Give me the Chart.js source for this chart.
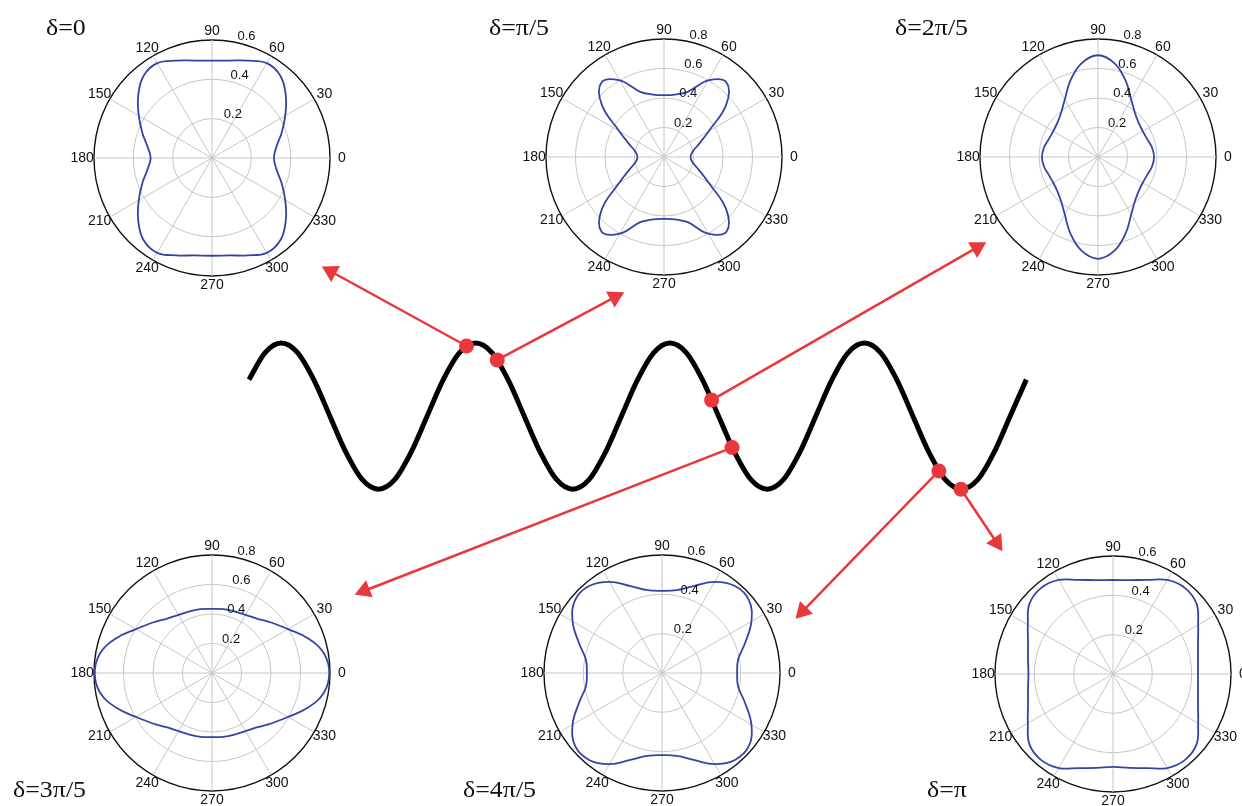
<!DOCTYPE html>
<html lang="en">
<head>
<meta charset="UTF-8">
<title>Polar patterns along the wave</title>
<script src="https://cdn.jsdelivr.net/npm/chart.js"></script>
<style>
  body { margin: 0; background: #fff; }
  #stage { position: relative; width: 1242px; height: 806px; overflow: hidden; background: #fff; }
  #stage canvas { position: absolute; }
  .delta { position: absolute; font-family: "Liberation Serif", "Times New Roman", serif; font-size: 24px; line-height: 24px; color: #111; white-space: nowrap; transform: scaleX(1.08); transform-origin: left top; }
</style>
</head>
<body>
<div id="stage"></div>
<script>
// polar angles (deg, counter-clockwise from 0)
const angles = [0,10,20,30,40,50,60,70,80,90,100,110,120,130,140,150,160,170,
                180,190,200,210,220,230,240,250,260,270,280,290,300,310,320,330,340,350];

const deltaLabels = ['δ=0', 'δ=π/5', 'δ=2π/5', 'δ=3π/5', 'δ=4π/5', 'δ=π'];
const rMax = [0.6, 0.8, 0.8, 0.8, 0.6, 0.6];

// radius read at each angle above
const r0 = [0.315,0.333,0.377,0.430,0.490,0.543,0.557,0.527,0.503,0.495,
            0.503,0.527,0.557,0.543,0.490,0.430,0.377,0.333,0.312,
            0.333,0.377,0.430,0.490,0.543,0.557,0.527,0.503,0.497,
            0.503,0.527,0.557,0.543,0.490,0.430,0.377,0.333];
const r1 = [0.180,0.195,0.250,0.350,0.550,0.660,0.600,0.470,0.430,0.420,
            0.430,0.470,0.600,0.660,0.550,0.350,0.250,0.195,0.180,
            0.195,0.250,0.350,0.550,0.660,0.600,0.470,0.430,0.420,
            0.430,0.470,0.600,0.660,0.550,0.350,0.250,0.195];
const r2 = [0.380,0.372,0.355,0.350,0.360,0.390,0.450,0.550,0.645,0.690,
            0.645,0.550,0.450,0.390,0.360,0.350,0.355,0.372,0.380,
            0.372,0.355,0.350,0.360,0.390,0.450,0.550,0.645,0.690,
            0.645,0.550,0.450,0.390,0.360,0.350,0.355,0.372];
const r3 = [0.795,0.770,0.690,0.595,0.530,0.480,0.455,0.445,0.440,0.435,
            0.440,0.445,0.455,0.480,0.530,0.595,0.690,0.770,0.795,
            0.770,0.690,0.595,0.530,0.480,0.455,0.445,0.440,0.435,
            0.440,0.445,0.455,0.480,0.530,0.595,0.690,0.770];
const r4 = [0.382,0.393,0.450,0.525,0.577,0.577,0.535,0.470,0.428,0.418,
            0.428,0.470,0.535,0.577,0.577,0.525,0.450,0.393,0.382,
            0.393,0.450,0.525,0.577,0.577,0.535,0.470,0.428,0.418,
            0.428,0.470,0.535,0.577,0.577,0.525,0.450,0.393];
const r5 = [0.432,0.439,0.460,0.500,0.555,0.570,0.552,0.509,0.485,0.478,
            0.485,0.509,0.552,0.570,0.555,0.500,0.460,0.439,0.430,
            0.439,0.460,0.500,0.555,0.570,0.552,0.509,0.485,0.472,
            0.485,0.509,0.552,0.570,0.555,0.500,0.460,0.439];
const radii = [r0, r1, r2, r3, r4, r5];

// the wave: phase in degrees, amplitude
const wavePhase = [-60,-30,0,30,60,90,120,150,180,210,240,270,300,330,360,390,420,450,480,510,540,
                   570,600,630,660,690,720,750,780,810,840,870,900,930,960,990,1020,1050,1080,
                   1110,1140,1170,1200,1230,1260,1290,1320,1350,1380];
const waveAmp = [0.5,0.87,1,0.87,0.5,0,-0.5,-0.87,-1,-0.87,-0.5,0,
                 0.5,0.87,1,0.87,0.5,0,-0.5,-0.87,-1,-0.87,-0.5,0,
                 0.5,0.87,1,0.87,0.5,0,-0.5,-0.87,-1,-0.87,-0.5,0,
                 0.5,0.87,1,0.87,0.5,0,-0.5,-0.87,-1,-0.87,-0.5,0,
                 0.5];

// red markers on the wave and where their arrows point
const dotPhase = [343, 400, 797, 835, 1218, 1259];
const dotAmp = [0.96, 0.77, 0.22, -0.43, -0.75, -1.0];
const arrowPhase = [92, 618, 1289, 154, 966, 1325];
const arrowAmp = [1.98, 1.63, 2.31, -2.39, -2.67, -1.73];

// layout
const panelCenters = [[212,158],[664,157],[1098,157],[212,673],[662,673],[1113,674]];
const labelSpots = [[46,35],[489,35],[895,35],[13,797],[463,797],[927,797]];
const PANEL = 300, PAD = 32;
const RED = '#e8383d';
const FONT = 'Arial, "Liberation Sans", sans-serif';

const stage = document.getElementById('stage');

function makeCanvas(left, top, w, h) {
  const c = document.createElement('canvas');
  c.width = w; c.height = h;
  c.style.left = left + 'px'; c.style.top = top + 'px';
  c.style.width = w + 'px'; c.style.height = h + 'px';
  stage.appendChild(c);
  return c;
}

// radar index i sits at clockwise step i from the top -> polar angle 90 - 10*i
const radarAngles = angles.map((_, i) => (90 - 10 * i + 360) % 360);

const polarText = {
  id: 'polarText',
  afterDraw(chart) {
    const s = chart.scales.r, ctx = chart.ctx;
    const R = s.drawingArea;
    ctx.save();
    ctx.fillStyle = '#111';
    ctx.textAlign = 'center';
    ctx.textBaseline = 'middle';
    ctx.font = '14px ' + FONT;
    chart.data.labels.forEach((lab, i) => {
      if (i % 3) return;
      const p = s.getPointPosition(i, R);
      const x = s.xCenter + (p.x - s.xCenter) * 1.10;
      const y = s.yCenter + (p.y - s.yCenter) * 1.075;
      ctx.fillText(lab, x, y);
    });
    ctx.font = '13px ' + FONT;
    s.ticks.forEach(t => {
      if (t.value <= 0) return;
      const p = s.getPointPosition(1, s.getDistanceFromCenterForValue(t.value));
      ctx.fillText(t.label, p.x + 14, p.y - 5);
    });
    ctx.restore();
  }
};

panelCenters.forEach(([cx, cy], k) => {
  const cv = makeCanvas(cx - PANEL / 2, cy - PANEL / 2, PANEL, PANEL);
  const max = rMax[k];
  const data = radarAngles.map(a => radii[k][angles.indexOf(a)]);
  new Chart(cv, {
    type: 'radar',
    data: {
      labels: radarAngles.map(String),
      datasets: [{
        data: data,
        borderColor: '#3444a4',
        borderWidth: 1.8,
        backgroundColor: 'transparent',
        fill: false,
        pointRadius: 0,
        tension: 0.4
      }]
    },
    options: {
      responsive: false,
      animation: false,
      events: [],
      layout: { padding: PAD },
      plugins: { legend: { display: false }, tooltip: { enabled: false } },
      scales: {
        r: {
          min: 0,
          max: max,
          startAngle: 0,
          ticks: { display: false, stepSize: 0.2 },
          pointLabels: { display: false },
          grid: {
            circular: true,
            color: c => Math.abs(c.tick.value - max) < 1e-6 ? '#111' : '#c6c6c6',
            lineWidth: c => Math.abs(c.tick.value - max) < 1e-6 ? 1.4 : 1
          },
          angleLines: {
            color: '#c6c6c6',
            lineWidth: c => c.index % 3 === 0 ? 1 : 0
          }
        }
      }
    },
    plugins: [polarText]
  });
});

// wave, markers and arrows on one full-size layer
const overlay = makeCanvas(0, 0, 1242, 806);
const wave = wavePhase.map((x, i) => ({ x: x, y: waveAmp[i] }));
const dots = dotPhase.map((x, i) => ({ x: x, y: dotAmp[i] }));
const arrows = dotPhase.map((x, i) => ({
  data: [{ x: x, y: dotAmp[i] }, { x: arrowPhase[i], y: arrowAmp[i] }],
  borderColor: RED,
  borderWidth: 2.5,
  pointRadius: [0, 10.5],
  pointStyle: 'triangle',
  pointBackgroundColor: RED,
  pointBorderColor: RED,
  pointBorderWidth: 0,
  pointRotation: c => {
    const d = c.dataset.data, xs = c.chart.scales.x, ys = c.chart.scales.y;
    const dx = xs.getPixelForValue(d[1].x) - xs.getPixelForValue(d[0].x);
    const dy = ys.getPixelForValue(d[1].y) - ys.getPixelForValue(d[0].y);
    return Math.atan2(dy, dx) * 180 / Math.PI + 90;
  },
  tension: 0
}));

new Chart(overlay, {
  type: 'line',
  data: {
    datasets: [
      { data: dots, showLine: false, pointRadius: 7.5, pointBackgroundColor: RED, pointBorderWidth: 0 },
      ...arrows,
      { data: wave, borderColor: '#000', borderWidth: 5, pointRadius: 0, cubicInterpolationMode: 'monotone' }
    ]
  },
  options: {
    responsive: false,
    animation: false,
    events: [],
    layout: { padding: 0 },
    plugins: { legend: { display: false }, tooltip: { enabled: false } },
    scales: {
      x: { type: 'linear', display: false, min: -501.7, max: 1760.1 },
      y: { type: 'linear', display: false, min: -5.193, max: 5.553 }
    }
  }
});

deltaLabels.forEach((txt, k) => {
  const d = document.createElement('div');
  d.className = 'delta';
  d.textContent = txt;
  d.style.left = labelSpots[k][0] + 'px';
  d.style.top = (labelSpots[k][1] - 20) + 'px';
  stage.appendChild(d);
});
</script>
</body>
</html>
